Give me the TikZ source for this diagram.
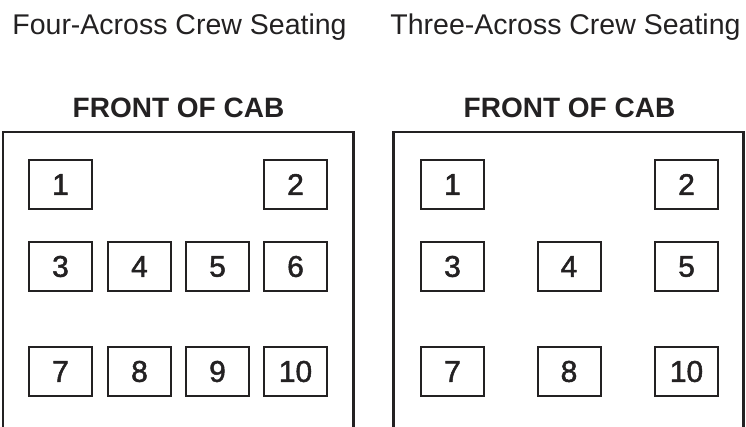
\documentclass[tikz,border=0pt]{standalone}
\usepackage{fontspec}
\setmainfont{Liberation Sans}
\newfontfamily\seatfont{Liberation Sans}[FakeBold=1.6]
\usetikzlibrary{positioning}
\definecolor{ink}{RGB}{35,33,34}

\begin{document}
\begin{tikzpicture}[x=1pt, y=-1pt,
    seat/.style={draw=ink, line width=2pt, minimum width=63pt, minimum height=49pt,
      inner sep=0pt, text=ink, font=\seatfont\fontsize{30}{30}\selectfont},
    cabframe/.style={draw=ink, line width=2.5pt},
    caption/.style={text=ink, anchor=base, inner sep=0pt, font=\fontsize{28.5}{28.5}\selectfont},
    cabfront/.style={text=ink, anchor=base, inner sep=0pt, font=\bfseries\fontsize{28}{28}\selectfont}]
    \useasboundingbox (0,0) rectangle (746,427);
    % --- headings ---
    \node[caption] (fourtitle) at (179.5,35) {Four-Across Crew Seating};
    \node[caption] (threetitle) at (565.5,35) {Three-Across Crew Seating};
    \node[cabfront] (fourfront) at (178.5,118) {FRONT OF CAB};
    \node[cabfront] (threefront) at (569.5,118) {FRONT OF CAB};
    % --- cab outlines, open at the bottom ---
    \draw[cabframe] (3,428) -- (3,132) -- (353.3,132) -- (353.3,428);
    \draw[cabframe] (393.5,428) -- (393.5,132) -- (743.3,132) -- (743.3,428);
    % --- four-across seats ---
    \node[seat] (f1) at (60.5,184.5) {1};
    \node[seat] (f2) at (295.5,184.5) {2};
    \node[seat] (f3) at (60.5,266.5) {3};
    \node[seat] (f4) at (139.5,266.5) {4};
    \node[seat] (f5) at (217.5,266.5) {5};
    \node[seat] (f6) at (295.5,266.5) {6};
    \node[seat] (f7) at (60.5,371.5) {7};
    \node[seat] (f8) at (139.5,371.5) {8};
    \node[seat] (f9) at (217.5,371.5) {9};
    \node[seat] (f10) at (295.5,371.5) {10};
    % --- three-across seats ---
    \node[seat] (t1) at (452.5,184.5) {1};
    \node[seat] (t2) at (686.5,184.5) {2};
    \node[seat] (t3) at (452.5,266.5) {3};
    \node[seat] (t4) at (569,266.5) {4};
    \node[seat] (t5) at (686.5,266.5) {5};
    \node[seat] (t7) at (452.5,371.5) {7};
    \node[seat] (t8) at (569,371.5) {8};
    \node[seat] (t10) at (686.5,371.5) {10};
\end{tikzpicture}
\end{document}
